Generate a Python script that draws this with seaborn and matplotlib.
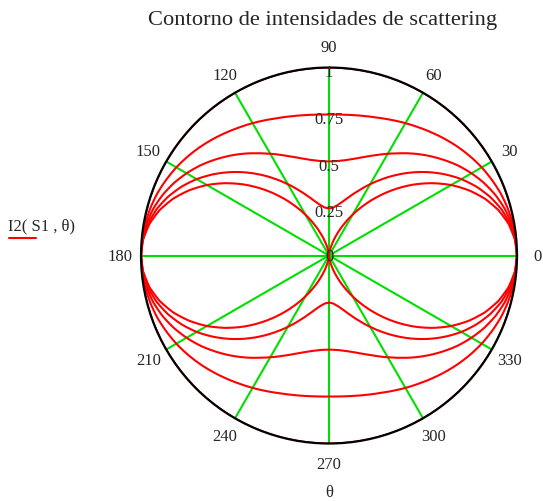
import numpy as np
import pandas as pd
import matplotlib
matplotlib.use("Agg")
import matplotlib.pyplot as plt
import seaborn as sns

# Angles (degrees) for one quadrant, 0..90
quad_angles = [0, 5, 10, 15, 20, 25, 30, 35, 40, 45, 50, 55, 60, 65, 70, 75, 80, 85, 90]

# Intensity values (one quadrant; curves are symmetric)
curve_k0   = [1.000, 0.992, 0.970, 0.933, 0.883, 0.821, 0.750, 0.671, 0.587, 0.500,
              0.413, 0.329, 0.250, 0.179, 0.117, 0.067, 0.030, 0.008, 0.000]
curve_k025 = [1.000, 0.994, 0.977, 0.950, 0.912, 0.866, 0.813, 0.753, 0.690, 0.625,
              0.560, 0.497, 0.438, 0.384, 0.338, 0.300, 0.273, 0.256, 0.250]
curve_k050 = [1.000, 0.996, 0.985, 0.967, 0.942, 0.911, 0.875, 0.836, 0.793, 0.750,
              0.707, 0.664, 0.625, 0.589, 0.558, 0.533, 0.515, 0.504, 0.500]
curve_k075 = [1.000, 0.998, 0.992, 0.983, 0.971, 0.955, 0.938, 0.918, 0.897, 0.875,
              0.853, 0.832, 0.813, 0.795, 0.779, 0.767, 0.758, 0.752, 0.750]
curve_k100 = [1.000] * 19

angle_labels = ["0", "30", "60", "90", "120", "150", "180", "210", "240", "270", "300", "330"]
angle_ticks = [0, 30, 60, 90, 120, 150, 180, 210, 240, 270, 300, 330]
radial_ticks = [0, 0.25, 0.5, 0.75, 1]
radial_labels = ["0", "0.25", "0.5", "0.75", "1"]

title = "Contorno de intensidades de scattering"
legend_label = "I2( S1 , θ)"
x_label = "θ"


def full_circle(vals):
    # mirror the quadrant reading over the full circle (symmetric curves)
    q1 = list(vals)
    q2 = q1[::-1][1:]
    half = q1 + q2
    return half + half[1:]


full_angles = []
for q in range(4):
    base = q * 90
    start = 0 if q == 0 else 1
    full_angles += [base + a for a in quad_angles[start:]]

rows = []
for name, vals in [("k0", curve_k0), ("k025", curve_k025), ("k050", curve_k050),
                   ("k075", curve_k075), ("k100", curve_k100)]:
    rr = full_circle(vals)
    for a, r in zip(full_angles, rr):
        rows.append({"curve": name, "theta": np.deg2rad(a), "r": r})
df = pd.DataFrame(rows)

sns.set_style("white")
plt.rcParams["font.family"] = ["Liberation Serif", "DejaVu Serif"]

fig = plt.figure(figsize=(5.43, 5.02), dpi=100)
ax = fig.add_axes([0.2597, 0.1145, 0.6924, 0.749], projection="polar")

sns.lineplot(data=df, x="theta", y="r", hue="curve", units="curve", estimator=None,
             sort=False, palette=["#ff0000"] * 5, legend=False, linewidth=1.5, ax=ax)

# draw segments as smooth arcs in polar space
for ln in ax.lines:
    ln.get_path()._interpolation_steps = 20

ax.set_ylim(0, 1)
ax.set_xticks(np.deg2rad(angle_ticks))
ax.set_xticklabels([])
ax.set_yticks([])
ax.xaxis.grid(True, color="#00e000", linewidth=1.5)
ax.yaxis.grid(False)
ax.spines["polar"].set_color("black")
ax.spines["polar"].set_linewidth(1.6)
ax.set_xlabel("")
ax.set_ylabel("")

for a, lab in zip(angle_ticks, angle_labels):
    ax.text(np.deg2rad(a), 1.11, lab, ha="center", va="center", fontsize=12,
            clip_on=False)

radial_pos = {"0": 0.0, "0.25": 0.23, "0.5": 0.478, "0.75": 0.727, "1": 0.975}
for v, lab in zip(radial_ticks, radial_labels):
    ax.text(np.pi / 2, radial_pos[lab], lab, ha="center", va="center", fontsize=12,
            clip_on=False, zorder=5)

fig.text(322.5 / 543, 1 - 21 / 502, title, ha="center", va="center", fontsize=16.2)
fig.text(329 / 543, 1 - 493 / 502, x_label, ha="center", va="center", fontsize=12)
fig.text(8 / 543, 1 - 226 / 502, legend_label, ha="left", va="center", fontsize=12)
fig.add_artist(plt.Line2D([9 / 543, 36 / 543], [1 - 239 / 502, 1 - 239 / 502],
                          color="#ff0000", linewidth=1.5))

fig.savefig("out.png", dpi=100)
